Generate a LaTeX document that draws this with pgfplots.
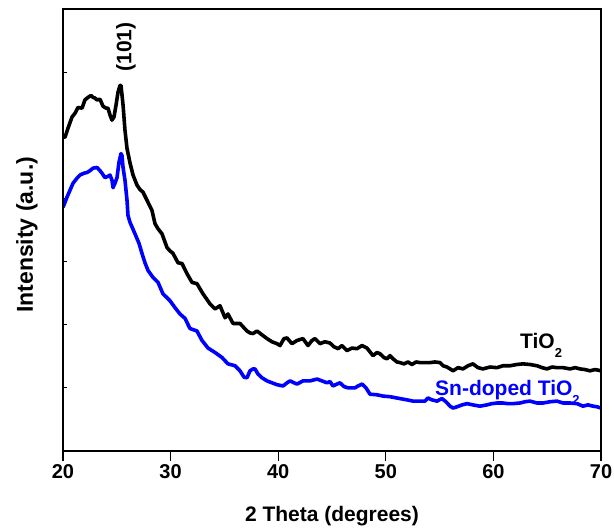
\documentclass[border=0pt]{standalone}
\usepackage{pgfplots}
\pgfplotsset{compat=1.18}
\usepackage{fontspec}
\setmainfont{Liberation Sans}
\definecolor{sdblue}{RGB}{0,0,255}

\pgfplotstableread{
x y
20.00 4.97
20.19 4.97
20.46 5.11
20.84 5.29
21.12 5.35
21.39 5.44
21.77 5.43
22.04 5.56
22.32 5.60
22.60 5.63
22.79 5.60
22.97 5.59
23.16 5.56
23.44 5.57
23.72 5.46
24.00 5.43
24.18 5.43
24.37 5.32
24.55 5.24
24.74 5.29
24.93 5.48
25.11 5.68
25.30 5.79
25.39 5.79
25.58 5.48
25.76 5.08
25.95 4.79
26.23 4.56
26.51 4.37
26.88 4.21
27.16 4.14
27.43 4.10
27.81 3.97
28.27 3.81
28.55 3.60
28.83 3.52
29.20 3.44
29.67 3.22
29.94 3.17
30.22 3.13
30.69 2.98
31.06 2.97
31.52 2.81
31.99 2.67
32.45 2.65
33.01 2.49
33.66 2.33
34.13 2.25
34.59 2.30
35.06 2.11
35.33 2.17
35.80 2.02
36.45 2.02
37.10 1.90
37.38 1.87
37.66 1.86
38.03 1.90
38.49 1.84
38.96 1.78
39.42 1.73
39.89 1.70
40.17 1.67
40.54 1.78
40.82 1.79
41.28 1.70
41.75 1.75
42.30 1.78
42.77 1.67
43.14 1.75
43.42 1.78
43.88 1.70
44.35 1.73
44.81 1.71
45.19 1.65
45.56 1.62
45.93 1.67
46.39 1.59
46.86 1.63
47.32 1.62
47.79 1.67
48.25 1.63
48.81 1.51
49.18 1.56
49.46 1.54
49.83 1.48
50.11 1.46
50.39 1.51
50.67 1.46
51.04 1.41
51.32 1.40
51.69 1.38
52.06 1.41
52.43 1.37
52.81 1.41
53.18 1.40
53.64 1.40
54.11 1.40
54.57 1.41
55.04 1.40
55.32 1.35
55.69 1.33
55.97 1.30
56.25 1.27
56.71 1.32
57.17 1.30
57.64 1.35
58.10 1.38
58.57 1.32
59.03 1.30
59.68 1.33
60.33 1.32
60.89 1.35
61.54 1.35
62.19 1.37
62.75 1.38
63.40 1.37
64.05 1.35
64.52 1.32
64.98 1.30
65.45 1.33
65.91 1.32
66.47 1.32
67.12 1.30
67.59 1.32
68.05 1.30
68.51 1.29
68.98 1.27
69.44 1.29
70.00 1.27
}\tiotwo

\pgfplotstableread{
x y
20.00 3.86
20.19 3.94
20.37 4.02
20.65 4.13
20.93 4.24
21.30 4.32
21.58 4.37
21.95 4.40
22.23 4.41
22.51 4.44
22.79 4.48
23.16 4.49
23.44 4.44
23.62 4.40
23.90 4.33
24.18 4.35
24.37 4.37
24.55 4.29
24.65 4.17
24.83 4.24
25.02 4.33
25.20 4.57
25.39 4.71
25.48 4.68
25.58 4.49
25.76 4.29
25.95 3.97
26.04 3.73
26.23 3.62
26.69 3.44
27.06 3.29
27.34 3.13
27.62 2.98
27.90 2.86
28.36 2.75
28.83 2.67
29.29 2.49
29.94 2.38
30.41 2.27
30.87 2.17
31.34 2.10
31.80 1.94
32.45 1.90
32.92 1.75
33.48 1.63
34.13 1.56
34.78 1.48
35.33 1.38
35.99 1.35
36.45 1.27
36.82 1.17
37.10 1.16
37.38 1.27
37.66 1.30
37.84 1.30
38.12 1.22
38.49 1.16
38.96 1.11
39.42 1.08
39.89 1.05
40.45 1.03
40.82 1.08
41.10 1.11
41.47 1.08
41.75 1.06
42.30 1.11
42.96 1.11
43.61 1.14
44.07 1.11
44.54 1.08
44.81 1.10
45.09 1.03
45.46 1.06
45.74 1.08
46.12 1.02
46.49 1.00
47.14 1.00
47.42 1.03
47.79 1.06
48.16 1.00
48.53 0.90
49.18 0.89
49.74 0.87
50.39 0.86
51.32 0.83
51.97 0.81
52.53 0.79
53.18 0.79
53.64 0.79
53.92 0.84
54.29 0.81
54.76 0.79
55.22 0.83
55.59 0.78
55.97 0.71
56.25 0.68
56.62 0.70
57.08 0.73
57.55 0.75
58.10 0.73
58.75 0.71
59.40 0.73
59.87 0.75
60.33 0.76
60.89 0.76
61.36 0.75
61.82 0.75
62.47 0.76
62.94 0.78
63.40 0.79
64.05 0.76
64.61 0.76
65.26 0.78
65.91 0.79
66.47 0.76
67.12 0.76
67.77 0.75
68.33 0.71
68.79 0.73
69.26 0.71
69.63 0.70
70.00 0.68
}\sndoped

\begin{document}
\begin{tikzpicture}
\useasboundingbox (-63bp,-79bp) rectangle (551bp,451bp);
\pgfplotsset{
  common/.style={
    scale only axis, width=538bp, height=442bp,
    xmin=20, xmax=70, ymin=0, ymax=7,
    axis line style={line width=1.2bp},
    every tick/.style={line width=1.2bp, black},
    ticklabel style={font=\bfseries\fontsize{20bp}{22bp}\selectfont},
    /pgf/number format/assume math mode=true,
  }
}
\begin{axis}[common,
  xtick=\empty,
  ytick={0,1,...,7}, yticklabels={},
  ytick pos=left, tick align=inside, major tick length=4bp,
  ylabel={Intensity (a.u.)},
  ylabel style={font=\bfseries\fontsize{23bp}{25bp}\selectfont, at={(axis description cs:-0.067,0.489)}, anchor=center},
]
\addplot[sdblue, line width=3.6bp, line join=round] table[x=x,y=y] {\sndoped};
\addplot[black, line width=3.6bp, line join=round] table[x=x,y=y] {\tiotwo};
\node[rotate=90, font=\bfseries\fontsize{21bp}{23bp}\selectfont] at (axis cs:25.85,6.40) {(101)};
\node[anchor=base west, inner sep=0pt, font=\bfseries\fontsize{21bp}{23bp}\selectfont] at (axis cs:62.47,1.62) {TiO\raisebox{-9bp}{\fontsize{13bp}{14bp}\selectfont 2}};
\node[anchor=base west, inner sep=0pt, text=sdblue, font=\bfseries\fontsize{21bp}{23bp}\selectfont] at (axis cs:54.57,0.873) {Sn-doped TiO\raisebox{-9bp}{\fontsize{13bp}{14bp}\selectfont 2}};
\end{axis}
\begin{axis}[common,
  ytick=\empty,
  xtick={20,30,...,70},
  xtick pos=left, tick align=outside, major tick length=10bp,
  xlabel={2 Theta (degrees)},
  xlabel style={font=\bfseries\fontsize{21bp}{23bp}\selectfont, at={(axis description cs:0.5,-0.147)}, anchor=center},
]
\end{axis}
\end{tikzpicture}
\end{document}
